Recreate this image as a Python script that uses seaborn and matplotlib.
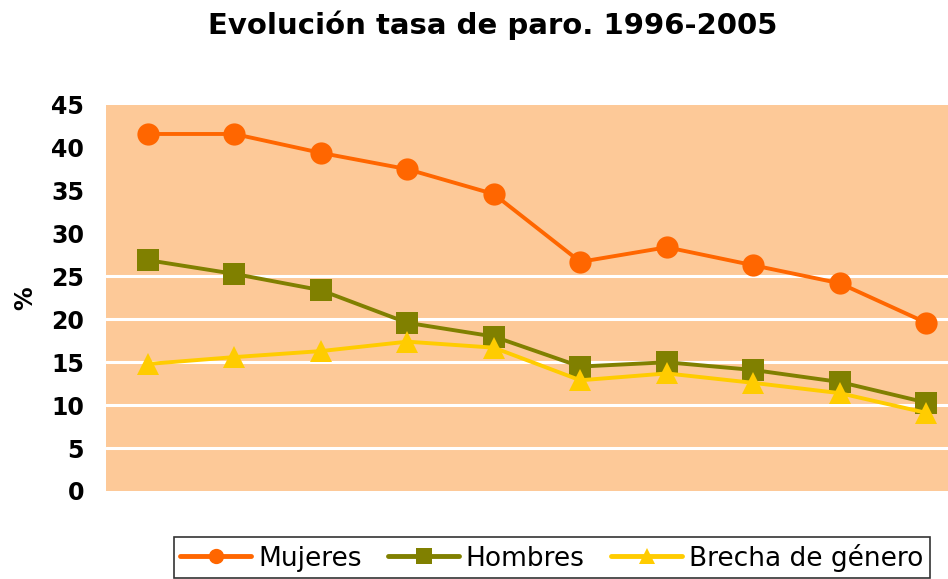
import matplotlib
matplotlib.use("Agg")
import matplotlib.pyplot as plt
import seaborn as sns
import pandas as pd
from matplotlib.lines import Line2D

years = [1996, 1997, 1998, 1999, 2000, 2001, 2002, 2003, 2004, 2005]
mujeres = [41.6, 41.6, 39.4, 37.5, 34.6, 26.7, 28.4, 26.3, 24.2, 19.6]
hombres = [26.9, 25.3, 23.4, 19.6, 18.0, 14.5, 15.0, 14.1, 12.7, 10.3]
brecha = [14.8, 15.6, 16.3, 17.4, 16.7, 12.9, 13.7, 12.6, 11.4, 9.1]
series_names = ["Mujeres", "Hombres", "Brecha de género"]
y_ticks = [0, 5, 10, 15, 20, 25, 30, 35, 40, 45]

colors = {"Mujeres": "#FF6600", "Hombres": "#808000", "Brecha de género": "#FFCC00"}
markers = {"Mujeres": "o", "Hombres": "s", "Brecha de género": "^"}

rows = []
for name, vals in zip(series_names, [mujeres, hombres, brecha]):
    for i, v in enumerate(vals):
        rows.append({"idx": i, "year": years[i], "valor": v, "serie": name})
df = pd.DataFrame(rows)

sns.set_style("white")
plt.rcParams['font.family'] = ['DejaVu Sans']
plt.rcParams['text.color'] = 'black'

fig = plt.figure(figsize=(9.48, 5.79), dpi=100)
ax = fig.add_axes([0.112, 0.152, 0.888, 0.667])
ax.set_facecolor("#FDC998")

for yv in [5, 10, 15, 20, 25]:
    ax.axhline(yv, color="white", lw=2.2, zorder=1)

sns.lineplot(data=df, x="idx", y="valor", hue="serie", style="serie",
             hue_order=series_names, style_order=series_names,
             palette=colors, markers=markers, dashes=False,
             linewidth=2.8, markersize=16, markeredgewidth=0,
             ax=ax, legend=False, zorder=3)

ax.set_xlim(-0.48, 9.25)
ax.set_ylim(0, 45)
ax.set_yticks(y_ticks)
ax.set_yticklabels([str(t) for t in y_ticks], fontsize=17, fontweight="bold", color="black")
ax.set_xticks([])
ax.set_xlabel("")
ax.set_ylabel("%", fontsize=17, fontweight="bold", labelpad=10, color="black")
ax.tick_params(axis="y", length=0, pad=16)
for s in ax.spines.values():
    s.set_visible(False)

fig.text(0.52, 0.957, "Evolución tasa de paro. 1996-2005", ha="center", va="center",
         fontsize=21, fontweight="heavy", color="black")

handles = [Line2D([0], [0], color=colors[n], marker=markers[n], lw=3.5, markersize=11,
                  markeredgewidth=0) for n in series_names]
leg = fig.legend(handles, series_names, loc="upper center", bbox_to_anchor=(0.582, 0.0725),
                 ncol=3, frameon=True, fontsize=19, handlelength=2.7, handletextpad=0.25,
                 columnspacing=1.0, borderpad=0.25, borderaxespad=0, fancybox=False,
                 edgecolor="black")
leg.get_frame().set_linewidth(1.2)
for t in leg.get_texts():
    t.set_color("black")

fig.savefig("out.png", dpi=100)
